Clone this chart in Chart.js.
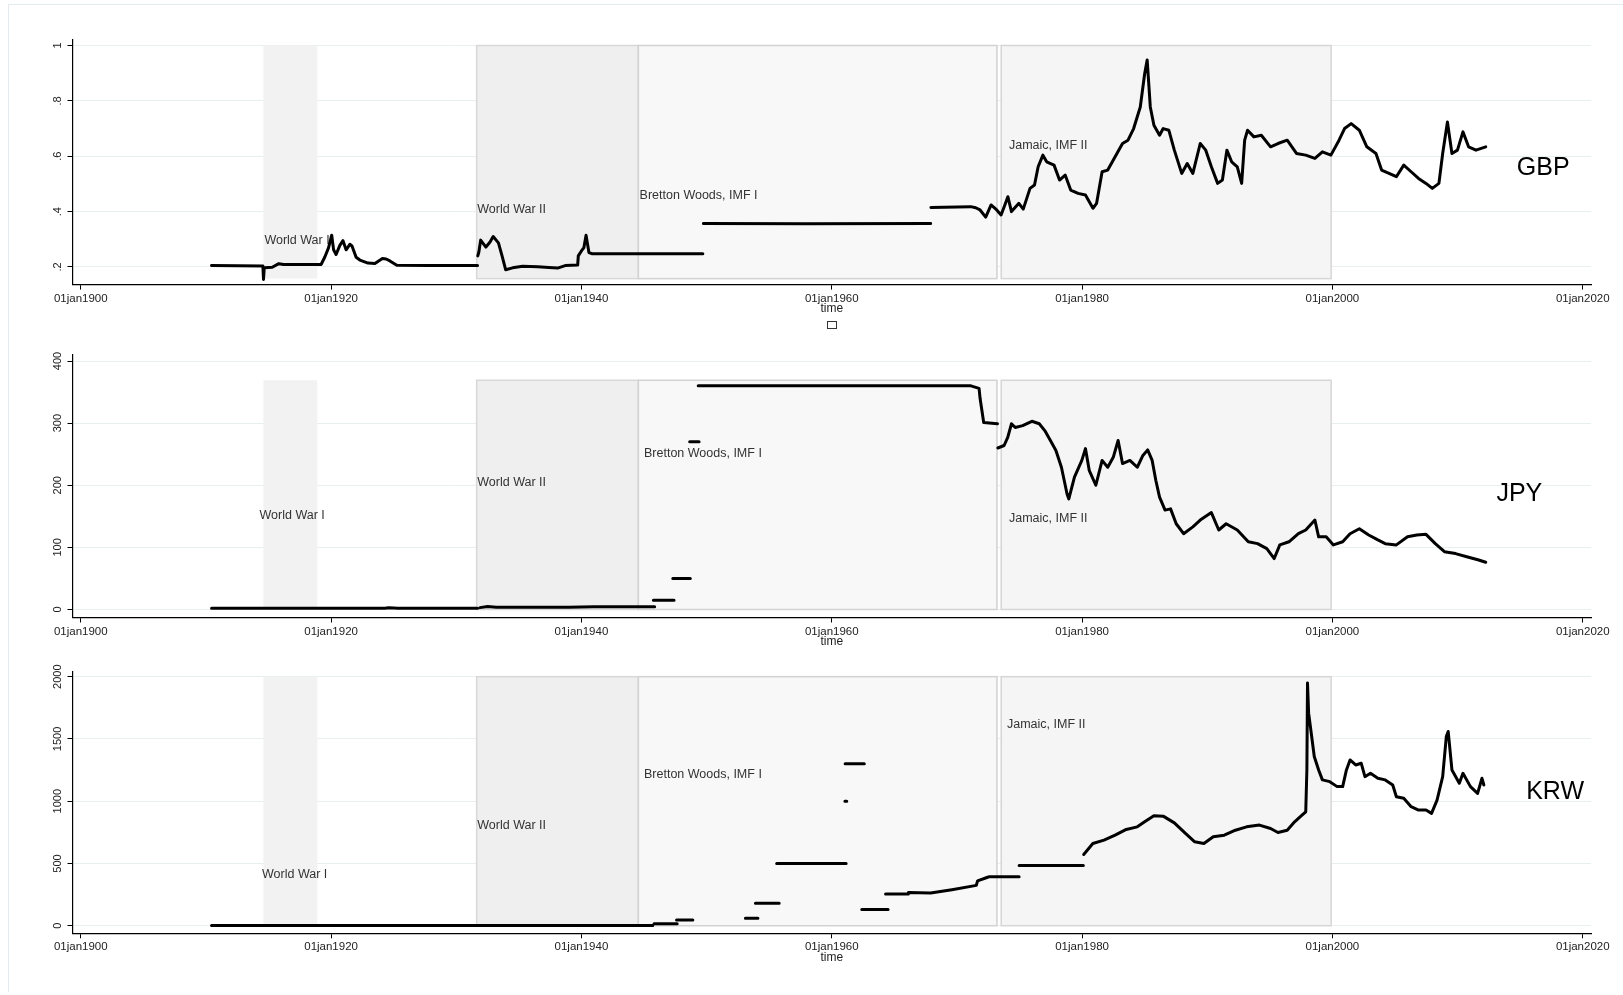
<!DOCTYPE html>
<html>
<head>
<meta charset="utf-8">
<script src="https://cdn.jsdelivr.net/npm/chart.js@4.4.1/dist/chart.umd.min.js"></script>
<style>
  body { margin: 0; background: #fff; width: 1623px; height: 995px; overflow: hidden; position: relative; }
  .frame { position: absolute; left: 8px; top: 4px; width: 1640px; height: 987px; border-left: 1px solid #e4ebee; border-top: 1px solid #e4ebee; }
  canvas { position: absolute; left: 0; }
</style>
</head>
<body>
<div class="frame"></div>
<canvas id="gbp" width="1623" height="340" style="top:0px"></canvas>
<canvas id="jpy" width="1623" height="320" style="top:340px"></canvas>
<canvas id="krw" width="1623" height="335" style="top:660px"></canvas>
<script>
// x axis, shared by the three panels
const xTicks = [1900, 1920, 1940, 1960, 1980, 2000, 2020];
const xTickLabels = ['01jan1900', '01jan1920', '01jan1940', '01jan1960', '01jan1980', '01jan2000', '01jan2020'];

// monetary regimes shaded behind the series
const eraNames = ['World War I', 'World War II', 'Bretton Woods, IMF I', 'Jamaic, IMF II'];
const eraStarts = [1914.59, 1931.63, 1944.55, 1973.54];
const eraEnds = [1918.9, 1944.55, 1973.2, 1999.9];

// GBP per USD (null = break in the series)
const gbpYears = [1910.45, 1914.55, 1914.6, 1914.66, 1915.3, 1915.82, 1916.2, 1919.2, 1919.5, 1919.8, 1919.95, 1920.05, 1920.2, 1920.4, 1920.7, 1920.95, 1921.2, 1921.5, 1921.67, 1922.0, 1922.3, 1922.95, 1923.5, 1924.1, 1924.4, 1924.7, 1925.25, 1927.8, 1931.7,
  null, 1931.72, 1931.81, 1931.95, 1932.37, 1932.7, 1932.95, 1933.37, 1933.66, 1933.95, 1934.5, 1935.3, 1936.5, 1937.4, 1938.1, 1938.7, 1939.7, 1939.75, 1940.0, 1940.2, 1940.37, 1940.6, 1940.87, 1949.7,
  null, 1949.75, 1958.0, 1967.9,
  null, 1967.92, 1971.1, 1971.5, 1971.85, 1972.3, 1972.73, 1973.18, 1973.53, 1973.8, 1974.07, 1974.36, 1974.95, 1975.3, 1975.84, 1976.2, 1976.49, 1976.87, 1977.17, 1977.76, 1978.2, 1978.65, 1979.09, 1979.68, 1980.27, 1980.87, 1981.16, 1981.6, 1982.05, 1982.64, 1983.23, 1983.67, 1984.12, 1984.65, 1985.0, 1985.2, 1985.45, 1985.74, 1986.19, 1986.48, 1986.93, 1987.37, 1987.96, 1988.4, 1988.85, 1989.44, 1989.88, 1990.33, 1990.83, 1991.21, 1991.57, 1991.95, 1992.4, 1992.75, 1992.99, 1993.22, 1993.73, 1994.32, 1995.06, 1995.65, 1996.39, 1997.13, 1997.87, 1998.6, 1999.2, 1999.88, 2000.53, 2000.97, 2001.5, 2002.15, 2002.75, 2003.48, 2003.93, 2004.52, 2005.11, 2005.7, 2006.29, 2006.88, 2007.48, 2007.98, 2008.51, 2008.81, 2009.19, 2009.55, 2009.99, 2010.43, 2010.88, 2011.47, 2012.25];
const gbpRates = [0.205, 0.204, 0.155, 0.197, 0.199, 0.212, 0.209, 0.209, 0.236, 0.27, 0.297, 0.315, 0.262, 0.245, 0.278, 0.295, 0.262, 0.282, 0.276, 0.235, 0.225, 0.214, 0.213, 0.231, 0.229, 0.222, 0.206, 0.205, 0.205,
  null, 0.24, 0.255, 0.297, 0.272, 0.29, 0.31, 0.287, 0.24, 0.19, 0.197, 0.203, 0.201, 0.198, 0.196, 0.205, 0.207, 0.24, 0.258, 0.27, 0.315, 0.252, 0.248, 0.248,
  null, 0.357, 0.356, 0.357,
  null, 0.415, 0.418, 0.414, 0.406, 0.38, 0.424, 0.406, 0.388, 0.42, 0.454, 0.40, 0.43, 0.409, 0.484, 0.496, 0.562, 0.604, 0.58, 0.568, 0.514, 0.532, 0.478, 0.466, 0.46, 0.412, 0.43, 0.544, 0.55, 0.598, 0.646, 0.658, 0.70, 0.778, 0.898, 0.948, 0.778, 0.712, 0.676, 0.70, 0.694, 0.622, 0.538, 0.574, 0.538, 0.646, 0.622, 0.562, 0.502, 0.514, 0.622, 0.58, 0.562, 0.502, 0.658, 0.694, 0.67, 0.676, 0.634, 0.646, 0.658, 0.61, 0.604, 0.592, 0.616, 0.604, 0.658, 0.70, 0.718, 0.694, 0.634, 0.61, 0.55, 0.538, 0.526, 0.568, 0.544, 0.52, 0.502, 0.484, 0.502, 0.61, 0.724, 0.61, 0.622, 0.688, 0.634, 0.622, 0.634];
const gbpTicks = [0.2, 0.4, 0.6, 0.8, 1];
const gbpTickLabels = ['.2', '.4', '.6', '.8', '1'];
const gbpEraLabelYears = [1914.67, 1931.68, 1944.65, 1974.16];
const gbpEraLabelValues = [0.295, 0.406, 0.457, 0.637];

// JPY per USD
const jpyYears = [1910.45, 1914.6, 1924.3, 1924.6, 1925.0, 1925.3, 1931.7,
  null, 1931.9, 1932.5, 1933.2, 1939.0, 1941.0, 1945.85,
  null, 1945.75, 1947.4,
  null, 1947.3, 1948.7,
  null, 1948.65, 1949.4,
  null, 1949.33, 1971.12, 1971.77, 1971.85, 1972.14, 1973.24,
  null, 1973.27, 1973.77, 1974.06, 1974.36, 1974.66, 1975.25, 1975.99, 1976.58, 1977.02, 1977.47, 1977.91, 1978.35, 1978.8, 1978.94, 1979.39, 1979.98, 1980.27, 1980.57, 1981.1, 1981.6, 1982.05, 1982.49, 1982.88, 1983.23, 1983.82, 1984.41, 1984.86, 1985.24, 1985.6, 1985.89, 1986.19, 1986.63, 1987.07, 1987.52, 1988.11, 1988.85, 1989.44, 1990.33, 1990.92, 1991.51, 1992.4, 1993.28, 1994.02, 1994.76, 1995.35, 1995.8, 1996.53, 1997.28, 1997.87, 1998.6, 1998.9, 1999.5, 2000.08, 2000.82, 2001.41, 2002.15, 2002.9, 2003.63, 2004.22, 2005.11, 2006.0, 2006.74, 2007.48, 2008.22, 2008.95, 2009.84, 2010.73, 2011.62, 2012.25];
const jpyRates = [2.0, 2.0, 2.0, 2.8, 2.4, 2.0, 2.0,
  null, 3.0, 4.8, 3.5, 3.8, 4.3, 4.3,
  null, 15, 15,
  null, 50, 50,
  null, 270, 270,
  null, 360, 360, 356, 340, 301, 299,
  null, 260, 264, 277, 299, 293, 296, 303, 299, 288, 272, 256, 229, 186, 178, 213, 240, 259, 224, 200, 240, 229, 245, 272, 235, 240, 229, 248, 257, 240, 208, 181, 160, 162, 138, 122, 133, 144, 156, 128, 138, 128, 109, 106, 98, 82, 104, 109, 122, 128, 144, 117, 117, 104, 109, 122, 130, 120, 112, 106, 104, 117, 120, 121, 106, 93, 90, 85, 80, 76];
const jpyTicks = [0, 100, 200, 300, 400];
const jpyTickLabels = ['0', '100', '200', '300', '400'];
const jpyEraLabelYears = [1914.28, 1931.68, 1945.0, 1974.16];
const jpyEraLabelValues = [150.5, 204.7, 251.4, 146.2];

// KRW per USD
const krwYears = [1910.45, 1945.7,
  null, 1945.8, 1947.65,
  null, 1947.6, 1948.9,
  null, 1953.1, 1954.1,
  null, 1953.9, 1955.8,
  null, 1955.6, 1961.15,
  null, 1961.05, 1961.2,
  null, 1961.07, 1962.6,
  null, 1962.4, 1964.5,
  null, 1964.3, 1966.1, 1966.12, 1967.9, 1969.6, 1971.55, 1971.65, 1972.4, 1972.6, 1974.97,
  null, 1974.97, 1980.1,
  null, 1980.13, 1980.86, 1981.75, 1982.64, 1983.53, 1984.41, 1985.0, 1985.74, 1986.48, 1987.37, 1988.26, 1989.0, 1989.73, 1990.48, 1991.36, 1992.25, 1993.14, 1994.17, 1995.06, 1995.65, 1996.39, 1996.98, 1997.57, 1997.87, 1997.96, 1998.01, 1998.1, 1998.31, 1998.55, 1998.9, 1999.2, 1999.79, 2000.38, 2000.82, 2001.12, 2001.41, 2001.86, 2002.3, 2002.6, 2003.04, 2003.63, 2004.22, 2004.82, 2005.11, 2005.7, 2006.29, 2006.88, 2007.48, 2007.92, 2008.36, 2008.81, 2009.1, 2009.25, 2009.55, 2010.14, 2010.43, 2011.03, 2011.6, 2011.95, 2012.1];
const krwRates = [2, 2,
  null, 15, 15,
  null, 45, 45,
  null, 60, 60,
  null, 180, 180,
  null, 500, 500,
  null, 1000, 1000,
  null, 1300, 1300,
  null, 130, 130,
  null, 255, 255, 266, 262, 289, 324, 360, 387, 394, 394,
  null, 484, 484,
  null, 572, 660, 687, 727, 773, 794, 834, 883, 880, 826, 741, 674, 660, 714, 727, 767, 794, 808, 781, 749, 767, 834, 888, 915, 1251, 1949, 1707, 1546, 1359, 1251, 1171, 1157, 1117, 1117, 1251, 1331, 1291, 1305, 1197, 1224, 1184, 1171, 1130, 1036, 1023, 956, 929, 929, 902, 1009, 1197, 1519, 1560, 1251, 1144, 1224, 1117, 1063, 1184, 1130];
const krwTicks = [0, 500, 1000, 1500, 2000];
const krwTickLabels = ['0', '500', '1000', '1500', '2000'];
const krwEraLabelYears = [1914.48, 1931.68, 1945.0, 1974.0];
const krwEraLabelValues = [413, 801, 1210, 1612];

const FONT = '"Liberation Sans", Arial, Helvetica, sans-serif';
const eraFills = ['#f2f2f2', '#efefef', '#f8f8f8', '#f5f5f5'];
const eraBorders = [null, '#d8d8d8', '#d2d2d2', '#d6d6d6'];

function panelPlugin(cfg) {
    return {
        id: 'panelDecor',
        beforeDatasetsDraw(chart) {
            const { ctx, scales: { x, y } } = chart;
            const top = y.getPixelForValue(cfg.band[1]);
            const bottom = y.getPixelForValue(cfg.band[0]);
            ctx.save();
            eraStarts.forEach((start, i) => {
                const left = x.getPixelForValue(start);
                const right = x.getPixelForValue(eraEnds[i]);
                ctx.fillStyle = eraFills[i];
                ctx.fillRect(left, top, right - left, bottom - top);
                if (eraBorders[i]) {
                    ctx.strokeStyle = eraBorders[i];
                    ctx.lineWidth = 1.5;
                    ctx.strokeRect(left, top, right - left, bottom - top);
                }
            });
            ctx.font = '12.5px ' + FONT;
            ctx.fillStyle = '#333';
            ctx.textAlign = 'left';
            ctx.textBaseline = 'middle';
            eraNames.forEach((name, i) => {
                ctx.fillText(name, x.getPixelForValue(cfg.labelYears[i]), y.getPixelForValue(cfg.labelValues[i]));
            });
            ctx.restore();
        },
        afterDraw(chart) {
            const { ctx, scales: { x, y } } = chart;
            ctx.save();
            // y tick labels, turned like Stata's
            ctx.font = '11px ' + FONT;
            ctx.fillStyle = '#222';
            ctx.textAlign = 'center';
            ctx.textBaseline = 'middle';
            cfg.ticks.forEach((v, i) => {
                ctx.save();
                ctx.translate(y.right - 15, y.getPixelForValue(v));
                ctx.rotate(-Math.PI / 2);
                ctx.fillText(cfg.tickLabels[i], 0, 0);
                ctx.restore();
            });
            // axis title
            ctx.font = '12px ' + FONT;
            ctx.fillText('time', x.getPixelForValue(1960), x.top + 24);
            // empty legend key under the first panel
            if (cfg.legendKey) {
                ctx.strokeStyle = '#333';
                ctx.lineWidth = 1;
                ctx.strokeRect(Math.round(x.getPixelForValue(1960) - 5) + 0.5, Math.round(x.top + 36) + 0.5, 9, 7);
            }
            // currency name
            ctx.font = '25px ' + FONT;
            ctx.fillStyle = '#000';
            ctx.textAlign = 'left';
            ctx.fillText(cfg.name, x.getPixelForValue(cfg.nameYear), y.getPixelForValue(cfg.nameValue));
            ctx.restore();
        }
    };
}

function drawPanel(id, cfg) {
    const points = cfg.years.map((yr, i) => ({ x: yr, y: cfg.rates[i] }));
    new Chart(document.getElementById(id), {
        type: 'line',
        data: {
            datasets: [{
                data: points,
                borderColor: '#000',
                borderWidth: 3,
                borderJoinStyle: 'round',
                borderCapStyle: 'round',
                pointRadius: 0,
                spanGaps: false,
                tension: 0,
                fill: false
            }]
        },
        options: {
            responsive: false,
            animation: false,
            devicePixelRatio: 1,
            layout: { padding: { left: 0, right: 32, top: cfg.top, bottom: 0 } },
            plugins: { legend: { display: false }, tooltip: { enabled: false } },
            scales: {
                x: {
                    type: 'linear',
                    min: 1899.34,
                    max: 2020.66,
                    afterBuildTicks: s => { s.ticks = xTicks.map(v => ({ value: v })); },
                    afterFit: s => { s.height = cfg.xHeight; },
                    ticks: {
                        autoSkip: false,
                        maxRotation: 0,
                        padding: 2,
                        color: '#222',
                        font: { family: FONT, size: 11.5 },
                        callback: (v, i) => xTickLabels[i]
                    },
                    grid: { drawOnChartArea: false, tickLength: 5, tickColor: '#000' },
                    border: { color: '#000', width: 1.2 }
                },
                y: {
                    type: 'linear',
                    min: cfg.min,
                    max: cfg.max,
                    afterBuildTicks: s => { s.ticks = cfg.ticks.map(v => ({ value: v })); },
                    afterFit: s => { s.width = 72.5; },
                    ticks: { display: false },
                    grid: { color: '#e8eff1', lineWidth: 1, tickLength: 5, tickColor: '#000' },
                    border: { color: '#000', width: 1.2 }
                }
            }
        },
        plugins: [panelPlugin(cfg)]
    });
}

drawPanel('gbp', {
    years: gbpYears, rates: gbpRates, min: 0.1364, max: 1.0217,
    ticks: gbpTicks, tickLabels: gbpTickLabels, band: [0.158, 1],
    labelYears: gbpEraLabelYears, labelValues: gbpEraLabelValues,
    name: 'GBP', nameYear: 2014.73, nameValue: 0.5575,
    top: 39.5, xHeight: 55.4, legendKey: true
});
drawPanel('jpy', {
    years: jpyYears, rates: jpyRates, min: -12.9, max: 409.7,
    ticks: jpyTicks, tickLabels: jpyTickLabels, band: [0, 369],
    labelYears: jpyEraLabelYears, labelValues: jpyEraLabelValues,
    name: 'JPY', nameYear: 2013.1, nameValue: 186,
    top: 15, xHeight: 42.5, legendKey: false
});
drawPanel('krw', {
    years: krwYears, rates: krwRates, min: -61, max: 2040,
    ticks: krwTicks, tickLabels: krwTickLabels, band: [0, 2000],
    labelYears: krwEraLabelYears, labelValues: krwEraLabelValues,
    name: 'KRW', nameYear: 2015.48, nameValue: 1076,
    top: 11.7, xHeight: 61.7, legendKey: false
});
</script>
</body>
</html>
